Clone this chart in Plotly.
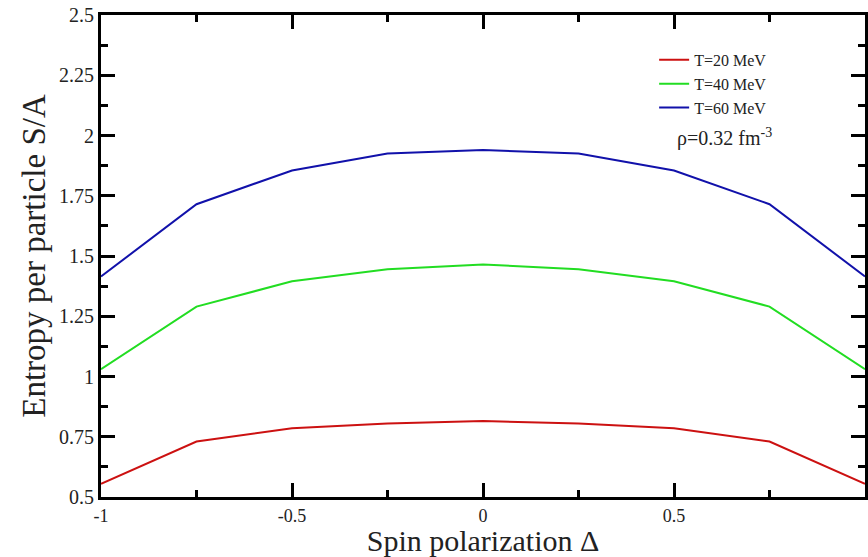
import plotly.graph_objects as go

delta = [-1, -0.75, -0.5, -0.25, 0, 0.25, 0.5, 0.75, 1]
s_t20 = [0.555, 0.73, 0.785, 0.805, 0.815, 0.805, 0.785, 0.73, 0.555]
s_t40 = [1.03, 1.29, 1.395, 1.445, 1.465, 1.445, 1.395, 1.29, 1.03]
s_t60 = [1.415, 1.715, 1.855, 1.925, 1.94, 1.925, 1.855, 1.715, 1.415]
series_names = ["T=20 MeV", "T=40 MeV", "T=60 MeV"]
series_colors = ["#cc1111", "#22dd22", "#1111aa"]
x_tickvals = [-1, -0.5, 0, 0.5, 1]
x_ticktext = ["-1", "-0.5", "0", "0.5", "1"]
y_tickvals = [0.5, 0.75, 1, 1.25, 1.5, 1.75, 2, 2.25, 2.5]
y_ticktext = ["0.5", "0.75", "1", "1.25", "1.5", "1.75", "2", "2.25", "2.5"]

font_family = "Liberation Serif, Times New Roman, serif"

fig = go.Figure()
for name, ys, col in zip(series_names, [s_t20, s_t40, s_t60], series_colors):
    fig.add_trace(go.Scatter(x=delta, y=ys, mode="lines", name=name,
                             line=dict(color=col, width=2)))

axis_common = dict(
    showline=True, linecolor="black", linewidth=3, mirror="ticks",
    ticks="inside", ticklen=14, tickwidth=3, tickcolor="black",
    showgrid=False, zeroline=False,
)

fig.update_xaxes(range=[-1, 1], tickvals=x_tickvals, ticktext=x_ticktext,
                 tickfont=dict(family=font_family, size=18, color="#222"),
                 minor=dict(tickvals=[-0.75, -0.25, 0.25, 0.75], ticklen=7, tickwidth=3,
                            ticks="inside", tickcolor="black"),
                 title=dict(text="Spin polarization Δ",
                            font=dict(family=font_family, size=30, color="#222"), standoff=0),
                 **axis_common)
fig.update_yaxes(range=[0.5, 2.5], tickvals=y_tickvals, ticktext=y_ticktext,
                 tickfont=dict(family=font_family, size=20, color="#222"),
                 minor=dict(tickvals=[0.625, 0.875, 1.125, 1.375, 1.625, 1.875, 2.125, 2.375],
                            ticklen=7, tickwidth=3, ticks="inside", tickcolor="black"),
                 title=dict(text="Entropy per particle S/A",
                            font=dict(family=font_family, size=33, color="#222"), standoff=4),
                 **axis_common)

fig.add_annotation(x=0.816, y=0.745, xref="paper", yref="paper",
                   xanchor="center", yanchor="middle",
                   text="ρ=0.32 fm<sup>-3</sup>", showarrow=False,
                   font=dict(family=font_family, size=20, color="#222"))

fig.update_layout(
    width=868, height=557,
    margin=dict(l=101, r=0, t=15, b=60),
    paper_bgcolor="white", plot_bgcolor="white",
    showlegend=True,
    legend=dict(x=0.724, y=0.942, xanchor="left", yanchor="top",
                bgcolor="rgba(0,0,0,0)", borderwidth=0,
                font=dict(family=font_family, size=16, color="#222"),
                tracegroupgap=0, itemwidth=30),
)

fig.write_html("out.html")
